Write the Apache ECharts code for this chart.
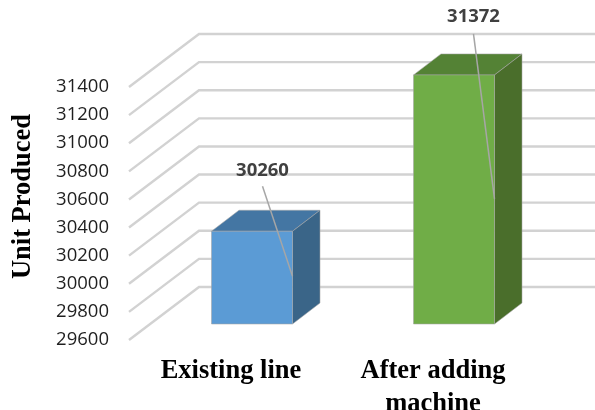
<!DOCTYPE html>
<html>
<head>
<meta charset="utf-8">
<style>html,body{margin:0;padding:0;background:#fff}#chart{width:595px;height:410px}</style>
<script src="https://cdn.jsdelivr.net/npm/echarts@6/dist/echarts.min.js"></script>
</head>
<body>
<div id="chart"></div>
<script>
// Production figures
const categories = ['Existing line', 'After adding\nmachine'];
const unitsProduced = [30260, 31372];
const axisMin = 29600;
const axisMax = 31400;
const axisStep = 200;
const tickValues = [29600, 29800, 30000, 30200, 30400, 30600, 30800, 31000, 31200, 31400];

// Oblique projection of the pseudo-3D box
const WALL_DX = 70, WALL_DY = -53;
const BAR_SHIFT_X = 21, BAR_SHIFT_Y = -16;
const BAR_DX = 27.5, BAR_DY = -21;
const BAR_W = 81;
const PALETTE = [
  { front: '#5b9bd5', top: '#4476a3', side: '#3a6588' },
  { front: '#70ad47', top: '#548235', side: '#4a6e2b' }
];
// Callout placement relative to each bar's top-right front corner
const CALLOUTS = [
  { labelDx: -30, labelDy: -60, startDx: -30, startDy: -45, endDy: 45 },
  { labelDx: -21, labelDy: -58, startDx: -21, startDy: -41, endDy: 124 }
];

const chart = echarts.init(document.getElementById('chart'), null, { renderer: 'canvas' });

function renderWallLine(params, api) {
  const y = api.coord([0, api.value(0)])[1];
  const x0 = params.coordSys.x - 1;
  const pts = [[x0, y], [x0 + WALL_DX, y + WALL_DY], [595, y + WALL_DY]];
  return {
    type: 'polyline',
    shape: { points: pts },
    style: { fill: null, stroke: '#d2d2d2', lineWidth: 2.4, lineJoin: 'miter' },
    silent: true
  };
}

function poly(points, fill) {
  return {
    type: 'polygon',
    shape: { points },
    style: { fill, stroke: 'rgba(165,165,165,0.55)', lineWidth: 1 }
  };
}

function renderBar(params, api) {
  const i = api.value(0);
  const c = PALETTE[i];
  const topPt = api.coord([i, api.value(1)]);
  const basePt = api.coord([i, axisMin]);
  const l = topPt[0] - BAR_W / 2 + BAR_SHIFT_X;
  const r = l + BAR_W;
  const t = topPt[1] + BAR_SHIFT_Y;
  const b = basePt[1] + BAR_SHIFT_Y;
  return {
    type: 'group',
    children: [
      poly([[l, t], [l + BAR_DX, t + BAR_DY], [r + BAR_DX, t + BAR_DY], [r, t]], c.top),
      poly([[r, t], [r + BAR_DX, t + BAR_DY], [r + BAR_DX, b + BAR_DY], [r, b]], c.side),
      poly([[l, t], [r, t], [r, b], [l, b]], c.front)
    ]
  };
}

function renderCallout(params, api) {
  const i = api.value(0);
  const c = CALLOUTS[i];
  const topPt = api.coord([i, api.value(1)]);
  const r = topPt[0] + BAR_W / 2 + BAR_SHIFT_X;
  const t = topPt[1] + BAR_SHIFT_Y;
  return {
    type: 'group',
    children: [
      {
        type: 'line',
        shape: { x1: r + c.startDx, y1: t + c.startDy, x2: r, y2: t + c.endDy },
        style: { stroke: '#a6a6a6', lineWidth: 1.5 }
      },
      {
        type: 'text',
        style: {
          x: r + c.labelDx,
          y: t + c.labelDy,
          text: String(api.value(1)),
          fill: '#404040',
          font: 'bold 18.5px "Open Sans"',
          align: 'center',
          verticalAlign: 'middle'
        }
      }
    ]
  };
}

chart.setOption({
  animation: false,
  backgroundColor: '#ffffff',
  grid: { left: 130, top: 87, width: 404, height: 253, outerBoundsMode: 'none' },
  xAxis: {
    type: 'category',
    data: categories,
    axisLine: { show: false },
    axisTick: { show: false },
    axisLabel: {
      margin: 15,
      fontFamily: 'Liberation Serif',
      fontWeight: 'bold',
      fontSize: 26.5,
      lineHeight: 33,
      color: '#000000',
      interval: 0
    }
  },
  yAxis: {
    type: 'value',
    min: axisMin,
    max: axisMax,
    interval: axisStep,
    name: 'Unit Produced',
    nameLocation: 'middle',
    nameGap: 93,
    nameRotate: 90,
    nameTextStyle: {
      fontFamily: 'Liberation Serif',
      fontWeight: 'bold',
      fontSize: 26.5,
      color: '#000000',
      padding: [0, 0, 0, 34]
    },
    axisLine: { show: false },
    axisTick: { show: false },
    splitLine: { show: false },
    axisLabel: {
      margin: 21,
      fontFamily: 'Open Sans',
      fontSize: 18.5,
      color: '#1f1f1f',
      formatter: v => String(v)
    }
  },
  series: [
    {
      type: 'custom',
      coordinateSystem: 'cartesian2d',
      clip: false,
      z: 1,
      silent: true,
      encode: { y: 0 },
      data: tickValues.map(v => [v]),
      renderItem: renderWallLine
    },
    {
      type: 'custom',
      coordinateSystem: 'cartesian2d',
      clip: false,
      z: 2,
      encode: { x: 0, y: 1 },
      data: unitsProduced.map((v, i) => [i, v]),
      renderItem: renderBar
    },
    {
      type: 'custom',
      coordinateSystem: 'cartesian2d',
      clip: false,
      z: 3,
      encode: { x: 0, y: 1 },
      data: unitsProduced.map((v, i) => [i, v]),
      renderItem: renderCallout
    }
  ]
});
</script>
</body>
</html>
